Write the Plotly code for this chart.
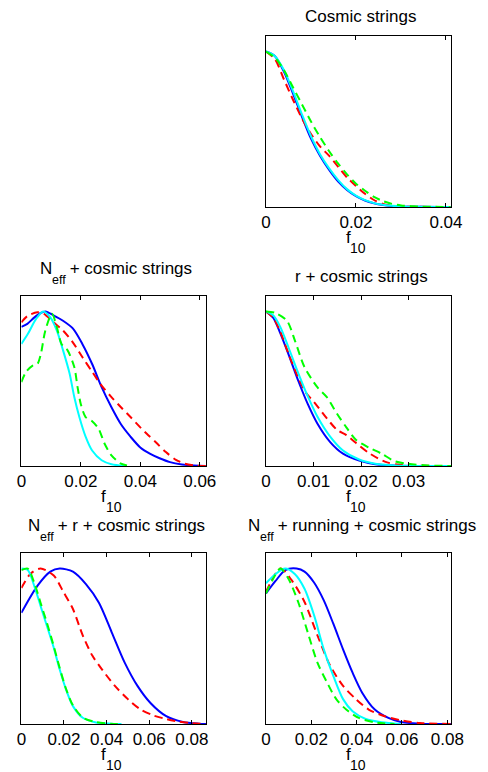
import plotly.graph_objects as go

# ---------------- data ----------------
# titles: (main, subscript, rest)
titles = [("Cosmic strings", "", ""),
          ("N", "eff", " + cosmic strings"),
          ("r + cosmic strings", "", ""),
          ("N", "eff", " + r + cosmic strings"),
          ("N", "eff", " + running + cosmic strings")]
xlabel_main, xlabel_sub = "f", "10"

# Panel A: Cosmic strings
a_x = [0, 0.002, 0.004, 0.006, 0.008, 0.010, 0.012, 0.014, 0.016, 0.018, 0.020, 0.022, 0.024, 0.026, 0.028, 0.030, 0.034, 0.041]
a_blue = [1.0, 0.97, 0.87, 0.73, 0.58, 0.44, 0.33, 0.24, 0.165, 0.11, 0.07, 0.042, 0.024, 0.013, 0.007, 0.004, 0.001, 0.0]
a_red = [1.0, 0.95, 0.82, 0.69, 0.57, 0.47, 0.39, 0.33, 0.26, 0.19, 0.135, 0.085, 0.045, 0.02, 0.008, 0.003, 0.001, 0.0]
a_cyan = [1.0, 0.97, 0.88, 0.745, 0.595, 0.455, 0.34, 0.25, 0.175, 0.115, 0.073, 0.044, 0.025, 0.014, 0.008, 0.004, 0.001, 0.0]
a_green = [1.0, 0.96, 0.88, 0.77, 0.66, 0.55, 0.45, 0.36, 0.28, 0.21, 0.15, 0.105, 0.065, 0.038, 0.02, 0.01, 0.003, 0.0]
a_ticks = [0, 0.02, 0.04]
a_ticktext = ["0", "0.02", "0.04"]
a_xmax = 0.0411

# Panel B: N_eff + cosmic strings
b_blue_x = [0, 0.002, 0.0043, 0.0065, 0.0081, 0.0108, 0.014, 0.0173, 0.0205, 0.0238, 0.027, 0.0303, 0.0335, 0.0367, 0.040, 0.0432, 0.0465, 0.050, 0.054, 0.058, 0.062]
b_blue_y = [0.90, 0.92, 0.96, 0.99, 1.0, 0.975, 0.94, 0.89, 0.79, 0.66, 0.51, 0.38, 0.27, 0.19, 0.12, 0.08, 0.05, 0.025, 0.01, 0.003, 0.0]
b_red_x = [0, 0.002, 0.0054, 0.0076, 0.0108, 0.014, 0.0173, 0.0205, 0.0238, 0.027, 0.0303, 0.0335, 0.0367, 0.040, 0.0421, 0.0454, 0.0486, 0.052, 0.055, 0.058, 0.062]
b_red_y = [0.93, 0.97, 0.995, 0.985, 0.93, 0.877, 0.80, 0.705, 0.61, 0.52, 0.446, 0.38, 0.317, 0.25, 0.21, 0.15, 0.09, 0.04, 0.015, 0.004, 0.0]
b_cyan_x = [0, 0.0022, 0.0049, 0.0073, 0.0097, 0.0119, 0.014, 0.0162, 0.0178, 0.0195, 0.0216, 0.0238, 0.027, 0.0303, 0.0346]
b_cyan_y = [0.79, 0.855, 0.95, 1.0, 0.963, 0.877, 0.75, 0.60, 0.446, 0.317, 0.19, 0.10, 0.037, 0.011, 0.0]
b_green_x = [0, 0.0016, 0.0038, 0.0054, 0.0065, 0.0081, 0.0103, 0.0119, 0.0135, 0.0155, 0.0178, 0.0189, 0.020, 0.0216, 0.0238, 0.026, 0.028, 0.0303, 0.0335, 0.0367]
b_green_y = [0.543, 0.61, 0.65, 0.66, 0.72, 0.88, 0.985, 0.90, 0.79, 0.75, 0.64, 0.51, 0.40, 0.317, 0.29, 0.24, 0.144, 0.069, 0.015, 0.0]
b_ticks = [0, 0.02, 0.04, 0.06]
b_ticktext = ["0", "0.02", "0.04", "0.06"]
b_xmax = 0.0622

# Panel C: r + cosmic strings
c_x = [0, 0.0015, 0.003, 0.0047, 0.0068, 0.0088, 0.0108, 0.0135, 0.0162, 0.0196, 0.023, 0.027, 0.032, 0.0389]
c_blue = [1.0, 0.96, 0.86, 0.725, 0.55, 0.40, 0.275, 0.155, 0.08, 0.035, 0.012, 0.003, 0.0, 0.0]
c_cyan = [1.0, 0.975, 0.90, 0.77, 0.60, 0.45, 0.32, 0.19, 0.10, 0.042, 0.015, 0.004, 0.0, 0.0]
c_red_x = [0, 0.0015, 0.003, 0.0047, 0.0068, 0.0085, 0.0102, 0.0125, 0.0149, 0.0169, 0.0189, 0.0216, 0.025, 0.028, 0.032, 0.0389]
c_red_y = [1.0, 0.96, 0.87, 0.73, 0.57, 0.47, 0.41, 0.32, 0.235, 0.20, 0.15, 0.085, 0.028, 0.008, 0.002, 0.0]
c_green_x = [0, 0.002, 0.0044, 0.0061, 0.0081, 0.0108, 0.0128, 0.0149, 0.0169, 0.0189, 0.0216, 0.0243, 0.027, 0.0297, 0.034, 0.0389]
c_green_y = [1.0, 0.99, 0.94, 0.81, 0.64, 0.51, 0.445, 0.34, 0.25, 0.17, 0.12, 0.08, 0.032, 0.015, 0.004, 0.0]
c_ticks = [0, 0.01, 0.02, 0.03]
c_ticktext = ["0", "0.01", "0.02", "0.03"]
c_xmax = 0.0389

# Panel D: N_eff + r + cosmic strings
d_blue_x = [0, 0.0076, 0.0136, 0.018, 0.0242, 0.0303, 0.0364, 0.0424, 0.0485, 0.0545, 0.0606, 0.068, 0.0758, 0.0833, 0.0868]
d_blue_y = [0.715, 0.89, 0.98, 1.0, 0.98, 0.90, 0.78, 0.59, 0.395, 0.245, 0.135, 0.05, 0.013, 0.002, 0.0]
d_red_x = [0, 0.0045, 0.009, 0.0152, 0.0197, 0.0242, 0.0288, 0.0333, 0.0379, 0.0439, 0.050, 0.056, 0.062, 0.068, 0.074, 0.080, 0.0868]
d_red_y = [0.875, 0.97, 1.0, 0.955, 0.85, 0.74, 0.57, 0.44, 0.35, 0.245, 0.16, 0.093, 0.055, 0.032, 0.015, 0.005, 0.0]
d_cg_x = [0, 0.003, 0.006, 0.009, 0.012, 0.015, 0.018, 0.021, 0.0242, 0.0288, 0.035, 0.042, 0.047]
d_cyan_y = [1.0, 0.99, 0.89, 0.76, 0.63, 0.50, 0.35, 0.22, 0.115, 0.04, 0.01, 0.002, 0.0]
d_green_y = [0.99, 1.0, 0.91, 0.78, 0.65, 0.51, 0.36, 0.225, 0.12, 0.042, 0.012, 0.002, 0.0]
d_ticks = [0, 0.02, 0.04, 0.06, 0.08]
d_ticktext = ["0", "0.02", "0.04", "0.06", "0.08"]
d_xmax = 0.0868

# Panel E: N_eff + running + cosmic strings
e_blue_x = [0, 0.0042, 0.0085, 0.0135, 0.017, 0.0212, 0.0255, 0.0297, 0.034, 0.0382, 0.0425, 0.048, 0.054, 0.0595, 0.068, 0.0816]
e_blue_y = [0.84, 0.92, 0.99, 1.0, 0.98, 0.91, 0.795, 0.645, 0.48, 0.33, 0.20, 0.093, 0.039, 0.013, 0.002, 0.0]
e_red_x = [0, 0.0064, 0.0113, 0.017, 0.0227, 0.0283, 0.034, 0.0397, 0.0453, 0.0524, 0.0595, 0.068, 0.0816]
e_red_y = [0.85, 1.0, 0.925, 0.785, 0.57, 0.375, 0.245, 0.16, 0.093, 0.05, 0.024, 0.006, 0.0]
e_cyan_x = [0, 0.0042, 0.0085, 0.0127, 0.017, 0.0212, 0.0255, 0.0297, 0.034, 0.0382, 0.044, 0.051, 0.0595]
e_cyan_y = [0.905, 0.965, 1.0, 0.965, 0.87, 0.70, 0.48, 0.31, 0.16, 0.082, 0.032, 0.011, 0.0]
e_green_x = [0, 0.0028, 0.0064, 0.0099, 0.0142, 0.0184, 0.0227, 0.027, 0.031, 0.0354, 0.041, 0.048, 0.0567]
e_green_y = [0.84, 0.925, 1.0, 0.935, 0.785, 0.59, 0.395, 0.265, 0.16, 0.093, 0.039, 0.011, 0.0]
e_ticks = [0, 0.02, 0.04, 0.06, 0.08]
e_ticktext = ["0", "0.02", "0.04", "0.06", "0.08"]
e_xmax = 0.0816

# ---------------- styling ----------------
W, H = 488, 772
FONT = "Liberation Sans, Arial, Helvetica, sans-serif"
FS = 17
SUB_FS = 12.5
XSUB_FS = 14
BLUE, RED, CYAN, GREEN = "#0000FF", "#FF0000", "#00FFFF", "#00FF00"
DASH = "8px,5px"
LW = 2

# panel boxes in pixels (left, right, top, bottom)
boxes = [
    (271, 463, 36, 207),
    (17, 209, 296, 466),
    (271, 463, 296, 466),
    (17, 209, 553, 724),
    (271, 463, 553, 724),
]

# Arial / Liberation Sans advance widths (1/1000 em)
ADV = {"N": 722, "e": 556, "f": 278, " ": 278, "+": 584, "c": 500, "o": 556, "s": 500,
       "m": 833, "i": 222, "t": 278, "r": 333, "n": 556, "g": 556, "u": 556, "C": 722,
       "1": 556, "0": 556}


def tw(s, size):
    return sum(ADV.get(ch, 556) for ch in s) * size / 1000.0


fig = go.Figure()


def add(ax, x, y, color, dashed):
    sfx = "" if ax == 1 else str(ax)
    fig.add_trace(go.Scatter(
        x=x, y=y, mode="lines", xaxis="x" + sfx, yaxis="y" + sfx,
        line=dict(color=color, width=LW, dash=DASH if dashed else "solid",
                  shape="spline", smoothing=0.8),
        showlegend=False, hoverinfo="skip"))


add(1, a_x, a_blue, BLUE, False)
add(1, a_x, a_red, RED, True)
add(1, a_x, a_cyan, CYAN, False)
add(1, a_x, a_green, GREEN, True)

add(2, b_blue_x, b_blue_y, BLUE, False)
add(2, b_red_x, b_red_y, RED, True)
add(2, b_cyan_x, b_cyan_y, CYAN, False)
add(2, b_green_x, b_green_y, GREEN, True)

add(3, c_x, c_blue, BLUE, False)
add(3, c_red_x, c_red_y, RED, True)
add(3, c_x, c_cyan, CYAN, False)
add(3, c_green_x, c_green_y, GREEN, True)

add(4, d_blue_x, d_blue_y, BLUE, False)
add(4, d_red_x, d_red_y, RED, True)
add(4, d_cg_x, d_cyan_y, CYAN, False)
add(4, d_cg_x, d_green_y, GREEN, True)

add(5, e_blue_x, e_blue_y, BLUE, False)
add(5, e_red_x, e_red_y, RED, True)
add(5, e_cyan_x, e_cyan_y, CYAN, False)
add(5, e_green_x, e_green_y, GREEN, True)

ticks_all = [(a_ticks, a_ticktext, a_xmax), (b_ticks, b_ticktext, b_xmax), (c_ticks, c_ticktext, c_xmax),
             (d_ticks, d_ticktext, d_xmax), (e_ticks, e_ticktext, e_xmax)]

# no width/height here: the page starts small (fits inside the default body margins),
# then the post script removes the margins and sets the exact 488x772 size.
layout = dict(
    margin=dict(l=0, r=0, t=0, b=0, pad=0),
    paper_bgcolor="white", plot_bgcolor="white",
    font=dict(family=FONT, size=FS, color="black"),
    showlegend=False,
)
annotations = []


def piece(text, x_left_px, baseline_px, size):
    # text bbox = ascent .905 + descent .212 (em); no border / pad
    cy = baseline_px - 0.3465 * size
    annotations.append(dict(
        text=text, x=x_left_px / W, y=1 - cy / H, xref="paper", yref="paper",
        xanchor="left", yanchor="middle", showarrow=False, borderpad=0, borderwidth=0,
        font=dict(family=FONT, size=size, color="black")))


for i, ((l, r, t, b), (tv, tt, xmax)) in enumerate(zip(boxes, ticks_all)):
    sfx = "" if i == 0 else str(i + 1)
    layout["xaxis" + sfx] = dict(
        domain=[l / W, r / W], anchor="y" + sfx, range=[0, xmax],
        tickmode="array", tickvals=tv, ticktext=tt, ticks="inside", ticklen=4,
        tickcolor="black", showline=True, linecolor="black", linewidth=1,
        mirror="allticks", showgrid=False, zeroline=False, fixedrange=True,
        tickfont=dict(family=FONT, size=FS, color="black"))
    layout["yaxis" + sfx] = dict(
        domain=[1 - b / H, 1 - t / H], anchor="x" + sfx, range=[0, 1.1],
        showticklabels=False, ticks="", showline=True, linecolor="black", linewidth=1,
        mirror=True, showgrid=False, zeroline=False, fixedrange=True)
    cx = (l + r) / 2
    main, sub, rest = titles[i]
    if sub:
        total = tw(main, FS) + tw(sub, SUB_FS) + tw(rest, FS)
        x0 = cx - total / 2
        base = t - 21.5
        piece(main, x0, base, FS)
        x1 = x0 + tw(main, FS)
        piece(sub, x1, base + 10, SUB_FS)
        x2 = x1 + tw(sub, SUB_FS)
        piece(rest, x2, base, FS)
    else:
        x0 = cx - tw(main, FS) / 2
        piece(main, x0, t - 13.5, FS)
    # x-axis label f_10
    fx = cx - 13
    piece(xlabel_main, fx, b + 36.5, FS)
    piece(xlabel_sub, fx + tw(xlabel_main, FS), b + 46, XSUB_FS)

layout["annotations"] = annotations
fig.update_layout(**layout)

post = ("document.documentElement.style.margin='0px';"
        "document.body.style.margin='0px';document.body.style.padding='0px';"
        "document.body.style.overflow='hidden';"
        "var gd=document.getElementById('{plot_id}');"
        "Plotly.relayout(gd,{width:%d,height:%d,autosize:false});" % (W, H))
fig.write_html("out.html", config={"displayModeBar": False, "responsive": False},
               post_script=post)
